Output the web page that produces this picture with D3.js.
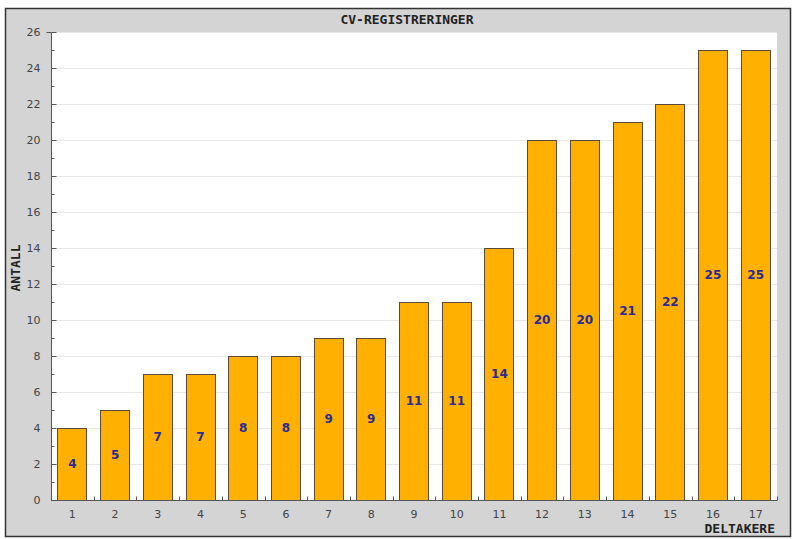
<!DOCTYPE html>
<html><head><meta charset="utf-8">
<script src="https://cdn.jsdelivr.net/npm/d3@7"></script>
<style>body{margin:0;background:#fff}svg{display:block}</style>
</head><body>
<script>
const categories = ["1","2","3","4","5","6","7","8","9","10","11","12","13","14","15","16","17"];
const values = [4,5,7,7,8,8,9,9,11,11,14,20,20,21,22,25,25];
const yTicks = [0,2,4,6,8,10,12,14,16,18,20,22,24,26];
const title = "CV-REGISTRERINGER";
const xLabel = "DELTAKERE";
const yLabel = "ANTALL";

const W = 796, H = 539;
const svg = d3.select("body").append("svg").attr("width", W).attr("height", H);

// outer panel
svg.append("rect").attr("x", 5.5).attr("y", 8.5).attr("width", 785).attr("height", 528)
  .attr("fill", "#d4d4d4").attr("stroke", "#333").attr("stroke-width", 1.5);

const pl = 51, pr = 777, pt = 32, pb = 500;
svg.append("rect").attr("x", pl).attr("y", pt).attr("width", pr - pl).attr("height", pb - pt).attr("fill", "#fff");

const x = d3.scaleBand().domain(categories).range([pl, pr]).paddingInner(0.3).paddingOuter(0.15);
const y = d3.scaleLinear().domain([0, 26]).range([pb, pt]);

// gridlines
svg.append("g").selectAll("line").data(yTicks.filter(d => d > 0)).join("line")
  .attr("x1", pl).attr("x2", pr).attr("y1", d => y(d) + 0.5).attr("y2", d => y(d) + 0.5)
  .attr("stroke", "#e8e8e8").attr("stroke-width", 1);

// bars
svg.append("g").selectAll("rect").data(values).join("rect")
  .attr("x", (d, i) => Math.round(x(categories[i])) + 0.5)
  .attr("y", d => Math.round(y(d)) + 0.5)
  .attr("width", Math.round(x.bandwidth()) - 1)
  .attr("height", d => Math.round(y(0)) - Math.round(y(d)))
  .attr("fill", "#ffb000").attr("stroke", "#5a4a3a").attr("stroke-width", 1);

// value labels
svg.append("g").selectAll("text").data(values).join("text")
  .attr("x", (d, i) => x(categories[i]) + x.bandwidth() / 2)
  .attr("y", d => y(d / 2) + 4)
  .attr("text-anchor", "middle")
  .attr("font-family", "DejaVu Sans, Verdana, sans-serif").attr("font-weight", "bold").attr("font-size", 12)
  .attr("fill", "#2a2a9a").text(d => d);

// y axis
const yAxis = d3.axisLeft(y).tickValues(d3.range(0, 27, 1)).tickSize(5)
  .tickFormat(d => d % 2 === 0 ? d : "");
const gy = svg.append("g").attr("transform", `translate(${pl + 0.5},0)`).call(yAxis);
gy.select(".domain").attr("stroke", "#555").attr("d", `M-5,${pt + 0.5}H0V${pb + 0.5}`);
gy.selectAll(".tick line").attr("x1", 0).attr("x2", d => d % 2 === 0 ? 5 : 3).attr("stroke", "#555");
gy.selectAll(".tick text").attr("x", -11).attr("font-family", "DejaVu Sans, Verdana, sans-serif")
  .attr("font-size", 11).attr("fill", "#444");

// x axis
const xAxis = d3.axisBottom(x).tickSize(0).tickPadding(10);
const gx = svg.append("g").attr("transform", `translate(0,${pb + 0.5})`).call(xAxis);
gx.select(".domain").attr("stroke", "#555").attr("d", `M${pl},0H${pr}`);
gx.selectAll(".tick text").attr("font-family", "DejaVu Sans, Verdana, sans-serif")
  .attr("font-size", 11).attr("fill", "#444");
// separator ticks between bands
const seps = categories.slice(1).map(c => x(c) - x.step() * x.paddingInner() / 2);
seps.push(pr);
gx.append("g").selectAll("line").data(seps).join("line")
  .attr("x1", d => Math.round(d) + 0.5).attr("x2", d => Math.round(d) + 0.5)
  .attr("y1", 0).attr("y2", -4).attr("stroke", "#555");

// titles
svg.append("text").attr("x", 407).attr("y", 24).attr("text-anchor", "middle")
  .attr("font-family", "DejaVu Sans Mono, monospace").attr("font-weight", "bold").attr("font-size", 13)
  .attr("fill", "#222").text(title);
svg.append("text").attr("x", 775).attr("y", 533).attr("text-anchor", "end")
  .attr("font-family", "DejaVu Sans Mono, monospace").attr("font-weight", "bold").attr("font-size", 13)
  .attr("fill", "#222").text(xLabel);
svg.append("text").attr("transform", "translate(20,268) rotate(-90)").attr("text-anchor", "middle")
  .attr("font-family", "DejaVu Sans Mono, monospace").attr("font-weight", "bold").attr("font-size", 13)
  .attr("fill", "#222").text(yLabel);
</script>
</body></html>
